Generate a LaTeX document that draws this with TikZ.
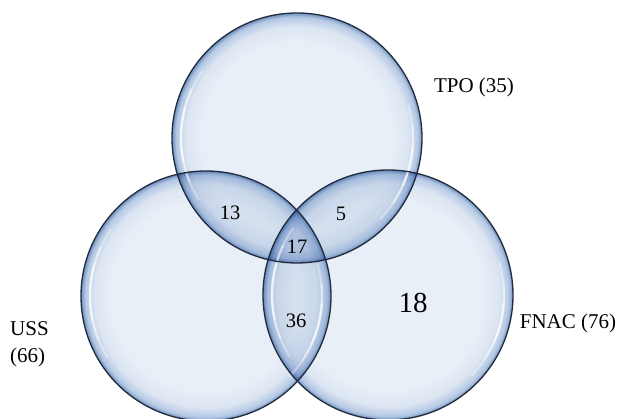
\documentclass[tikz,border=0pt]{standalone}
\usepackage{fontspec}
\setmainfont{Liberation Serif}
\usetikzlibrary{calc}

% bubble colours
\definecolor{bubIn}{RGB}{233,239,247}
\definecolor{bubA}{RGB}{220,229,242}
\definecolor{bubB}{RGB}{180,200,228}
\definecolor{bubC}{RGB}{112,144,190}
\definecolor{rimline}{RGB}{32,44,62}

% radial fill: 25bp is the rim of the circle
\pgfdeclareradialshading{bubble}{\pgfpoint{0bp}{0bp}}{%
  color(0bp)=(bubIn); color(19bp)=(bubIn); color(22.3bp)=(bubA);
  color(24.2bp)=(bubB); color(25bp)=(bubC); color(50bp)=(bubC)}

% soft white reflections just inside the rim
\newcommand\bubblegloss[1]{%
  \foreach \a/\b/\o in {145/212/0.35, 155/202/0.40, 165/192/0.50,
                        -44/16/0.35, -34/6/0.40, -24/-4/0.50}
    \draw[gloss, opacity=\o] ($(#1)+(\a:116)$) arc[start angle=\a, end angle=\b, radius=116];}

\begin{document}
\begin{tikzpicture}[x=1pt, y=1pt,
  rim/.style={draw=rimline, line width=1.3pt},
  gloss/.style={draw=white, line cap=round, line width=2.2pt},
  lbl/.style={font=\fontsize{21}{27}\selectfont, inner sep=0pt},
  num/.style={font=\fontsize{20.5}{24}\selectfont, inner sep=0pt},
  bignum/.style={font=\fontsize{29}{32}\selectfont, inner sep=0pt}]
\useasboundingbox (0,0) rectangle (624,419);

\coordinate (cT) at (297,281);
\coordinate (cL) at (206,123);
\coordinate (cR) at (388,124);

% translucent bubbles, darker where they overlap
\begin{scope}[blend group=multiply]
  \foreach \c in {cT,cL,cR}
    \shade[shading=bubble] (\c) circle[radius=125];
\end{scope}

\bubblegloss{cT}
\bubblegloss{cL}
\bubblegloss{cR}

\foreach \c in {cT,cL,cR}
  \draw[rim] (\c) circle[radius=125];

% set names
\node[lbl] (tpo) at (474,332) {TPO (35)};
\node[lbl] (fnac) at (568,96) {FNAC (76)};
\node[lbl, align=left, anchor=west] (uss) at (10,75) {USS\\(66)};

% region counts
\node[num] (n13) at (230,206) {13};
\node[num] (n5) at (341,205) {5};
\node[num] (n17) at (297,172) {17};
\node[num] (n36) at (296,98) {36};
\node[bignum] (n18) at (413,116) {18};
\end{tikzpicture}
\end{document}
